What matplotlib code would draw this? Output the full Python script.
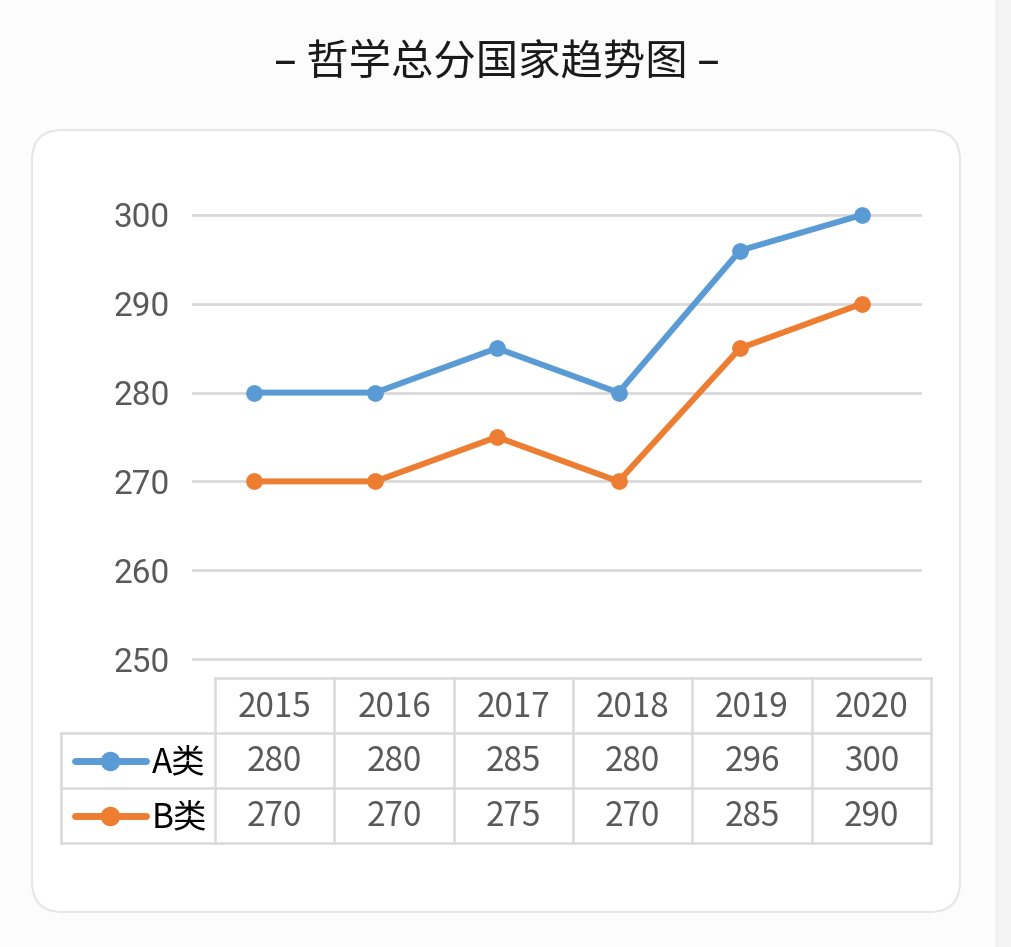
import matplotlib
matplotlib.use("Agg")
import matplotlib.pyplot as plt
from matplotlib.lines import Line2D
from matplotlib.patches import FancyBboxPatch

plt.rcParams['font.family'] = ['Noto Sans CJK SC', 'DejaVu Sans']

years = ["2015", "2016", "2017", "2018", "2019", "2020"]
series_names = ["A类", "B类"]
a_scores = [280, 280, 285, 280, 296, 300]
b_scores = [270, 270, 275, 270, 285, 290]
y_ticks = [250, 260, 270, 280, 290, 300]
title = "– 哲学总分国家趋势图 –"

BLUE = "#5B9BD5"
ORANGE = "#ED7D31"
GRID = "#d9d9d9"
TEXT = "#595959"

W, H = 1012, 947
fig = plt.figure(figsize=(W / 100, H / 100), dpi=100)
fig.patch.set_facecolor("#fcfcfc")


def fx(px):
    return px / W


def fy(py):
    return 1 - py / H


# right grey strip of the screenshot
fig.add_artist(plt.Rectangle((fx(995), 0), 1 - fx(995), 1, transform=fig.transFigure,
                             facecolor="#f4f4f4", edgecolor="none", zorder=-2))

# rounded card
card = FancyBboxPatch((fx(32), fy(912)), fx(960) - fx(32), fy(130) - fy(912),
                      boxstyle="round,pad=0,rounding_size=0.03",
                      transform=fig.transFigure, facecolor="white",
                      edgecolor="#e6e6e6", linewidth=1.5, zorder=-1,
                      mutation_aspect=W / H)
fig.add_artist(card)

fig.text(fx(497), fy(62), title, ha="center", va="center", fontsize=30.5, color="#1a1a1a")

# line chart
ax = fig.add_axes([fx(193), fy(659), fx(920) - fx(193), fy(215) - fy(659)])
ax.set_facecolor("none")
xs = list(range(len(years)))
ax.set_xlim(-0.5, len(years) - 1 + 0.48)
ax.set_ylim(y_ticks[0], y_ticks[-1])
for v in y_ticks:
    ax.axhline(v, color=GRID, linewidth=2, zorder=1, clip_on=False)
ax.plot(xs, a_scores, color=BLUE, linewidth=4.3, marker="o", markersize=11, zorder=3, clip_on=False)
ax.plot(xs, b_scores, color=ORANGE, linewidth=4.3, marker="o", markersize=11, zorder=3, clip_on=False)
ax.set_xticks([])
ax.set_yticks(y_ticks)
ax.set_yticklabels([str(v) for v in y_ticks], fontsize=24, color=TEXT, family="Roboto")
ax.tick_params(axis="y", length=0, pad=17)
for s in ax.spines.values():
    s.set_visible(False)

# data table under the chart
col_edges = [215, 334, 454, 573, 692, 812, 931]
row_edges = [678, 733, 788, 843]
left_edge = 61


def hline(x0, x1, y):
    fig.add_artist(Line2D([fx(x0), fx(x1)], [fy(y), fy(y)], transform=fig.transFigure,
                          color=GRID, linewidth=1.8, zorder=2))


def vline(x, y0, y1):
    fig.add_artist(Line2D([fx(x), fx(x)], [fy(y0), fy(y1)], transform=fig.transFigure,
                          color=GRID, linewidth=1.8, zorder=2))


hline(col_edges[0], col_edges[-1], row_edges[0])
for y in row_edges[1:]:
    hline(left_edge, col_edges[-1], y)
for x in col_edges:
    vline(x, row_edges[0], row_edges[-1])
vline(left_edge, row_edges[1], row_edges[-1])

for i, yr in enumerate(years):
    cx = (col_edges[i] + col_edges[i + 1]) / 2
    fig.text(fx(cx), fy((row_edges[0] + row_edges[1]) / 2 + 2), yr, ha="center", va="center",
             fontsize=24, color=TEXT)

for r, (name, vals, color) in enumerate(zip(series_names, [a_scores, b_scores], [BLUE, ORANGE])):
    cy = (row_edges[r + 1] + row_edges[r + 2]) / 2
    fig.add_artist(Line2D([fx(75), fx(146)], [fy(cy), fy(cy)], transform=fig.transFigure,
                          color=color, linewidth=5, solid_capstyle="round", zorder=3))
    fig.add_artist(Line2D([fx(110)], [fy(cy)], transform=fig.transFigure, color=color,
                          marker="o", markersize=13, zorder=4))
    fig.text(fx(152), fy(cy + 2), name, ha="left", va="center", fontsize=24, color="black")
    for i, v in enumerate(vals):
        cx = (col_edges[i] + col_edges[i + 1]) / 2
        fig.text(fx(cx), fy(cy + 1), str(v), ha="center", va="center", fontsize=24, color=TEXT)

fig.savefig("out.png", dpi=100, facecolor=fig.get_facecolor())
